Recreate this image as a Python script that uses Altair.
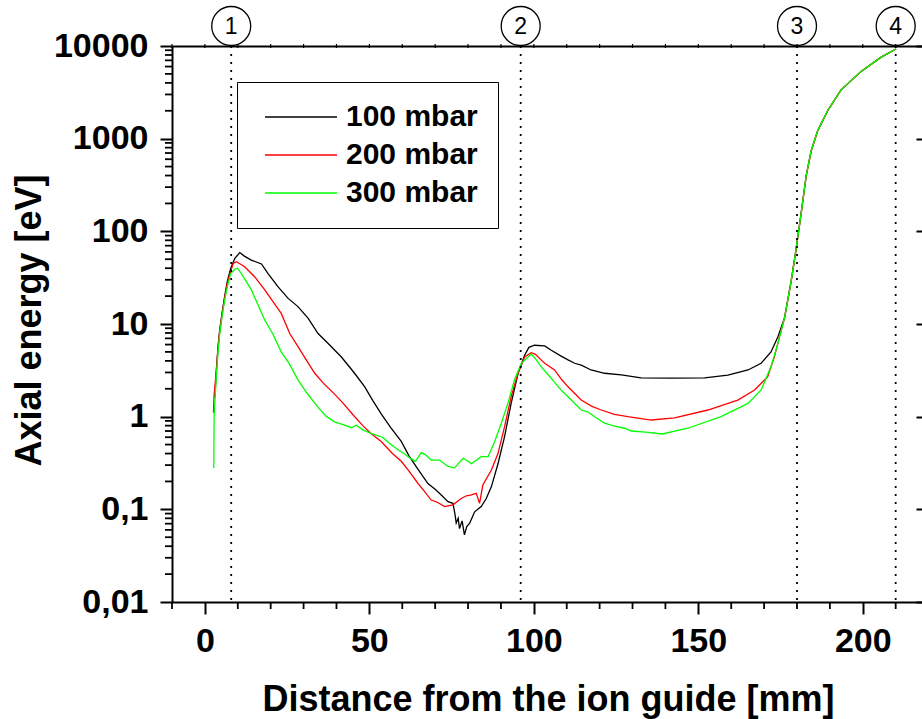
import altair as alt
import pandas as pd

FONT = "Liberation Sans"

series_names = ["100 mbar", "200 mbar", "300 mbar"]
series_colors = ["#000000", "#ff0000", "#00ff00"]

x_100 = [3.0, 3.5, 4.0, 4.5, 5.2, 6.0, 6.8, 7.85, 9.1, 10.6, 12.0, 14.1, 17.2, 19.2, 22.2, 25.3,
         28.3, 31.4, 34.4, 37.4, 41.5, 45.5, 48.6, 51.0, 53.6, 56.5, 59.7, 62.0, 64.8, 67.8, 70.0,
         71.3, 73.9, 75.4, 76.0, 76.4, 77.0, 77.4, 78.2, 78.9, 79.6, 80.5, 82.0, 84.0, 85.5, 87.1,
         89.1, 91.1, 93.1, 95.2, 97.2, 98.5, 100.2, 103.3, 105.3, 108.3, 110.4, 112.4, 114.4, 117.4,
         121.5, 126.6, 132.6, 141.8, 151.9, 159.0, 165.1, 169.1, 172.1, 174.2, 176.2]
y_100 = [1.6, 3.2, 5.7, 8.6, 13, 19.7, 28.7, 40, 51, 59, 54, 49, 44.5, 35, 25.3, 18.9,
         15.4, 11.5, 7.9, 6.2, 4.4, 2.94, 2.1, 1.5, 1.07, 0.76, 0.54, 0.38, 0.27, 0.19, 0.165,
         0.149, 0.121, 0.116, 0.09, 0.071, 0.08, 0.062, 0.075, 0.053, 0.065, 0.071, 0.094, 0.107, 0.13, 0.176,
         0.31, 0.61, 1.39, 2.94, 4.6, 5.6, 5.9, 5.8, 5.2, 4.5, 4.1, 3.77, 3.6, 3.19,
         2.94, 2.82, 2.62, 2.6, 2.62, 2.8, 3.19, 3.77, 5.0, 7.3, 11.6]

x_200 = [2.6, 2.8, 3.5, 4.0, 4.5, 5.2, 6.0, 6.8, 7.85, 8.6, 9.6, 10.5, 12.1, 15.1, 18.2, 20.7,
         23.2, 25.8, 28.3, 31.0, 33.4, 36.0, 39.4, 42.0, 45.0, 48.0, 50.5, 53.6, 57.0, 59.7, 62.0,
         64.8, 66.5, 68.8, 70.5, 72.9, 75.4, 77.9, 79.5, 81.0, 82.5, 83.5, 84.5, 87.1, 89.1, 91.1,
         93.1, 95.2, 97.2, 99.2, 100.5, 102.2, 103.3, 106.3, 108.5, 110.4, 114.4, 117.5, 120.5,
         124.5, 128.6, 135.7, 142.8, 152.9, 162.0, 167.1, 171.1, 173.1, 174.7, 176.2]
y_200 = [1.1, 1.7, 3.2, 5.5, 8.3, 12.5, 19, 27.5, 37, 45, 47, 45, 41.5, 32.4, 23.3, 17.4,
         13, 7.9, 5.7, 4.0, 2.94, 2.3, 1.75, 1.4, 1.05, 0.8, 0.66, 0.54, 0.4, 0.33, 0.26,
         0.19, 0.16, 0.126, 0.12, 0.107, 0.112, 0.131, 0.14, 0.143, 0.149, 0.116, 0.183, 0.266, 0.40, 0.78,
         1.64, 2.94, 4.4, 4.9, 4.7, 4.1, 3.77, 3.19, 2.5, 2.1, 1.51, 1.3, 1.18,
         1.06, 1.0, 0.92, 0.97, 1.18, 1.51, 1.94, 2.7, 4.4, 7.3, 11.6]

x_300 = [2.7, 2.8, 3.1, 3.5, 4.0, 4.5, 5.2, 6.0, 6.8, 7.85, 9.1, 9.9, 11.1, 12.5, 14.1, 16.0,
         18.2, 20.5, 23.2, 25.5, 28.3, 31.0, 34.4, 37.0, 39.4, 42.0, 44.5, 46.0, 48.0, 50.5, 54.0,
         56.0, 58.7, 60.5, 62.7, 64.0, 65.8, 67.0, 68.8, 71.3, 73.9, 75.9, 78.5, 80.0, 81.0, 84.0,
         86.1, 88.1, 90.1, 92.1, 94.1, 96.2, 99.2, 100.5, 102.2, 104.5, 106.5, 108.5, 111.4, 114.4,
         116.4, 118.5, 121.5, 124.5, 127.6, 129.6, 134.0, 139.0, 146.8, 156.9, 165.1, 169.1, 172.1,
         174.2, 176.2]
y_300 = [0.28, 1.0, 1.6, 2.8, 5.0, 7.8, 12, 18, 25, 35, 39, 40, 35, 29, 23.5, 16.5,
         11, 8, 5.0, 3.8, 2.5, 1.8, 1.26, 1.0, 0.88, 0.82, 0.76, 0.81, 0.72, 0.66, 0.6,
         0.52, 0.44, 0.4, 0.35, 0.33, 0.41, 0.39, 0.34, 0.34, 0.29, 0.28, 0.356, 0.33, 0.31, 0.37,
         0.37, 0.54, 0.85, 1.39, 2.49, 3.77, 4.75, 4.2, 3.47, 2.8, 2.3, 1.9, 1.51, 1.18,
         1.13, 1.0, 0.85, 0.79, 0.75, 0.70, 0.68, 0.65, 0.75, 1.0, 1.39, 1.94, 3.47,
         6.2, 11.6]

# common high-energy part shared by all three pressures
x_tail = [178.2, 179.6, 181.3, 182.8, 184.3, 186.3, 189.4, 193.4, 199.5, 205.6, 210.1]
y_tail = [28.7, 60, 160, 400, 736, 1222, 2028, 3365, 5321, 7590, 9290]

marker_x = [8, 96, 180, 210]
marker_labels = ["1", "2", "3", "4"]

x_major = [0, 50, 100, 150, 200]
x_minor = [v for v in range(-10, 220, 10) if v % 50 != 0]
y_major = [0.01, 0.1, 1, 10, 100, 1000, 10000]
y_minor = [k * 10.0 ** e for e in range(-2, 4) for k in range(2, 10)]

rows = []
for name, xs, ys in zip(series_names, [x_100, x_200, x_300], [y_100, y_200, y_300]):
    for xv, yv in zip(xs + x_tail, ys + y_tail):
        rows.append({"series": name, "x": xv, "energy": yv})
df = pd.DataFrame(rows)
markers = pd.DataFrame({"x": marker_x, "label": marker_labels})

W, H = 750, 556
xscale = alt.Scale(domain=[-10, 218], nice=False, zero=False)
yscale = alt.Scale(type="log", domain=[0.01, 10000], nice=False)

lines = alt.Chart(df).mark_line(strokeWidth=1.3).encode(
    x=alt.X("x:Q", scale=xscale, title="Distance from the ion guide [mm]",
            axis=alt.Axis(orient="bottom", values=x_major, tickSize=12, tickWidth=2,
                          domainWidth=2, labelFontSize=34, labelFontWeight="bold",
                          labelPadding=10, titleFontSize=36, titleFontWeight="bold",
                          titleX=376, titleY=108, titleBaseline="alphabetic",
                          titleAlign="center", grid=False)),
    y=alt.Y("energy:Q", scale=yscale, title="Axial energy [eV]",
            axis=alt.Axis(orient="left", values=y_major, tickSize=12, tickWidth=2,
                          domainWidth=2, labelFontSize=34, labelFontWeight="bold",
                          labelPadding=12,
                          labelExpr="replace(toString(datum.value), '.', ',')",
                          titleFontSize=36, titleFontWeight="bold", titleAngle=270,
                          titleX=-132, titleY=274, titleBaseline="alphabetic",
                          titleAlign="center", grid=False)),
    color=alt.Color("series:N", scale=alt.Scale(domain=series_names, range=series_colors),
                    legend=alt.Legend(title=None, orient="none", legendX=65, legendY=36,
                                      symbolType="stroke", symbolSize=5184,
                                      symbolStrokeWidth=1.3, labelFontSize=30,
                                      labelFontWeight="bold", labelFont=FONT,
                                      labelColor="black", padding=20,
                                      strokeColor="black", rowPadding=8, clipHeight=30,
                                      labelOffset=8, symbolOffset=7)),
)

rules = alt.Chart(markers).mark_rule(color="black", strokeWidth=1.8, strokeDash=[2, 6]).encode(
    x=alt.X("x:Q", scale=xscale, axis=None),
)

circles = alt.Chart(markers).mark_point(shape="circle", size=1520, filled=False,
                                        color="black", strokeWidth=1.3, opacity=1).encode(
    x=alt.X("x:Q", scale=xscale, title=None,
            axis=alt.Axis(orient="top", ticks=False, labels=False, domainWidth=2, grid=False)),
    y=alt.value(-20),
)

circle_text = alt.Chart(markers).mark_text(fontSize=23, font=FONT, color="black",
                                           baseline="middle", align="center").encode(
    x=alt.X("x:Q", scale=xscale, axis=None),
    y=alt.value(-19),
    text="label:N",
)

# minor ticks (bottom, top and left) drawn through the shared scales
x_minor_df = pd.DataFrame({"t": x_minor})
x_all_df = pd.DataFrame({"t": x_minor + x_major})
y_minor_df = pd.DataFrame({"t": y_minor})

bottom_minor = alt.Chart(x_minor_df).mark_tick(color="black", size=7, thickness=1.8,
                                               orient="vertical", opacity=1).encode(
    x=alt.X("t:Q", scale=xscale, axis=None),
    y=alt.value(H + 3.5),
)
top_minor = alt.Chart(x_all_df).mark_tick(color="black", size=4, thickness=1.2,
                                          orient="vertical", opacity=1).encode(
    x=alt.X("t:Q", scale=xscale, axis=None),
    y=alt.value(0),
)
left_minor = alt.Chart(y_minor_df).mark_tick(color="black", size=7, thickness=1.8,
                                             orient="horizontal", opacity=1).encode(
    y=alt.Y("t:Q", scale=yscale, axis=None),
    x=alt.value(-3.5),
)

y_right_layer = alt.Chart(pd.DataFrame({"y": y_major})).mark_rule(opacity=0).encode(
    y=alt.Y("y:Q", scale=yscale, title=None,
            axis=alt.Axis(orient="right", values=y_major, tickSize=6, tickWidth=2,
                          labels=False, domain=False, offset=-6, grid=False)),
)

chart = (
    alt.layer(lines, rules, circles, circle_text, bottom_minor, top_minor, left_minor,
              y_right_layer)
    .resolve_axis(x="independent", y="independent")
    .properties(width=W, height=H,
                autosize=alt.AutoSizeParams(type="none"),
                padding={"left": 172, "top": 46, "right": 0, "bottom": 117})
    .configure_view(stroke=None)
    .configure(font=FONT)
    .configure_axis(domainColor="black", tickColor="black", labelColor="black",
                    titleColor="black", labelFont=FONT, titleFont=FONT)
)

chart.save("out.html", embed_options={"renderer": "svg", "actions": False})
